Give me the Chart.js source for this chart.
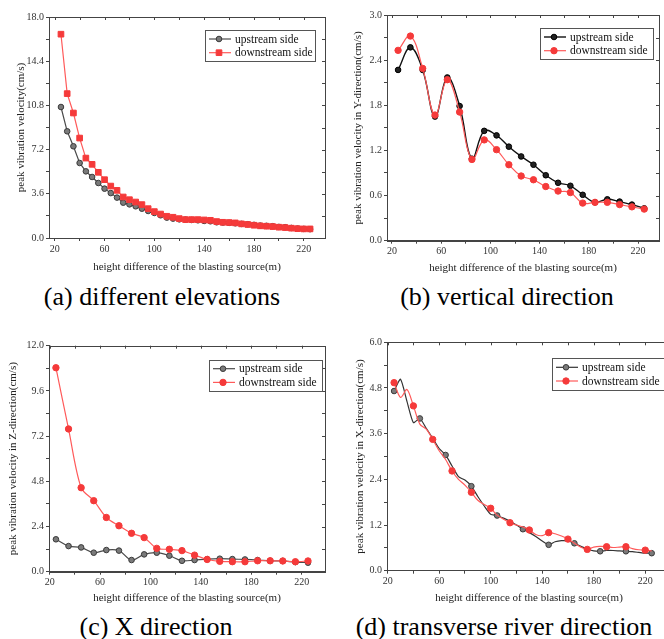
<!DOCTYPE html>
<html>
<head>
<meta charset="utf-8">
<script src="https://cdn.jsdelivr.net/npm/chart.js@4.4.0/dist/chart.umd.min.js"></script>
<style>
  html, body { margin: 0; padding: 0; background: #fff; }
  body { position: relative; width: 664px; height: 639px; overflow: hidden; }
  .panel { position: absolute; }
  .caption {
    position: absolute;
    font-family: "Liberation Serif", "Times New Roman", serif;
    font-size: 26px;
    color: #000;
    white-space: nowrap;
    transform: translate(-50%, -50%);
  }
</style>
</head>
<body>
<div class="panel" style="left:0;top:0"><canvas id="chartA" width="335" height="280"></canvas></div>
<div class="panel" style="left:335px;top:0"><canvas id="chartB" width="329" height="280"></canvas></div>
<div class="panel" style="left:0;top:330px"><canvas id="chartC" width="335" height="280"></canvas></div>
<div class="panel" style="left:335px;top:330px"><canvas id="chartD" width="345" height="280"></canvas></div>

<div class="caption" style="left:162px;top:297px">(a) different elevations</div>
<div class="caption" style="left:507px;top:297px">(b) vertical direction</div>
<div class="caption" style="left:156px;top:627px">(c) X direction</div>
<div class="caption" style="left:504px;top:627px">(d) transverse river direction</div>

<script>
// ---- data ----
const seriesNames = ["upstream side", "downstream side"];

// (a) different elevations, every 5 m
const xA = [25, 30, 35, 40, 45, 50, 55, 60, 65, 70, 75, 80, 85, 90, 95, 100, 105, 110, 115, 120,
  125, 130, 135, 140, 145, 150, 155, 160, 165, 170, 175, 180, 185, 190, 195, 200, 205, 210, 215, 220, 225];
const upA = [10.67, 8.69, 7.47, 6.11, 5.43, 4.97, 4.48, 4.02, 3.66, 3.29, 2.88, 2.74, 2.58, 2.39, 2.20,
  2.04, 1.85, 1.66, 1.58, 1.52, 1.50, 1.47, 1.44, 1.39, 1.36, 1.28, 1.26, 1.23, 1.20, 1.15, 1.12, 1.07,
  1.01, 0.99, 0.96, 0.90, 0.88, 0.82, 0.77, 0.74, 0.72];
const downA = [16.6, 11.76, 10.18, 8.14, 6.51, 6.0, 5.35, 4.75, 4.23, 3.88, 3.34, 3.12, 2.93, 2.72, 2.39,
  2.15, 1.95, 1.77, 1.69, 1.58, 1.50, 1.50, 1.50, 1.47, 1.44, 1.34, 1.28, 1.26, 1.23, 1.15, 1.10, 1.04,
  0.99, 0.96, 0.93, 0.88, 0.85, 0.80, 0.76, 0.74, 0.74];

// (b) vertical direction, every 10 m
const xB = [25, 35, 45, 55, 65, 75, 85, 95, 105, 115, 125, 135, 145, 155, 165, 175, 185, 195, 205, 215, 225];
const upB = [2.27, 2.57, 2.27, 1.65, 2.17, 1.79, 1.09, 1.46, 1.40, 1.25, 1.12, 1.01, 0.87, 0.77, 0.73,
  0.61, 0.51, 0.55, 0.52, 0.48, 0.43];
const downB = [2.53, 2.72, 2.29, 1.67, 2.14, 1.71, 1.08, 1.34, 1.21, 1.01, 0.86, 0.81, 0.72, 0.66, 0.64,
  0.50, 0.51, 0.51, 0.48, 0.45, 0.42];

// (c) X direction, every 10 m
const xC = [25, 35, 45, 55, 65, 75, 85, 95, 105, 115, 125, 135, 145, 155, 165, 175, 185, 195, 205, 215, 225];
const upC = [1.72, 1.36, 1.29, 1.01, 1.15, 1.12, 0.62, 0.92, 1.01, 0.85, 0.58, 0.62, 0.67, 0.69, 0.67,
  0.65, 0.62, 0.58, 0.57, 0.51, 0.48];
const downC = [10.83, 7.58, 4.46, 3.77, 2.88, 2.44, 2.04, 1.81, 1.24, 1.19, 1.12, 0.88, 0.65, 0.55, 0.53,
  0.53, 0.58, 0.58, 0.57, 0.53, 0.57];

// (d) transverse river direction, line every 5 m, markers only on some points
const xD = [25, 30, 35, 40, 45, 50, 55, 60, 65, 70, 75, 80, 85, 90, 95, 100, 105, 110, 115, 120,
  125, 130, 135, 140, 145, 150, 155, 160, 165, 170, 175, 180, 185, 190, 195, 200, 205, 210, 215, 220, 225];
const upD = [4.72, 5.03, 4.45, 3.89, 4.00, 3.74, 3.48, 3.21, 3.04, 2.75, 2.47, 2.38, 2.22, 1.95, 1.70,
  1.48, 1.45, 1.38, 1.30, 1.20, 1.09, 1.00, 0.90, 0.78, 0.68, 0.76, 0.79, 0.78, 0.72, 0.64, 0.57, 0.52,
  0.51, 0.53, 0.53, 0.52, 0.51, 0.50, 0.48, 0.46, 0.46];
const downD = [4.94, 4.55, 4.76, 4.33, 3.85, 3.72, 3.45, 3.15, 2.92, 2.62, 2.40, 2.25, 2.06, 1.85, 1.74,
  1.64, 1.46, 1.35, 1.26, 1.20, 1.15, 1.07, 0.95, 0.92, 1.00, 0.97, 0.91, 0.83, 0.72, 0.62, 0.56, 0.62,
  0.64, 0.63, 0.61, 0.62, 0.63, 0.58, 0.55, 0.54, 0.52];
const upMarkD = [25, 45, 65, 85, 105, 125, 145, 165, 185, 205, 225];
const downMarkD = [25, 40, 55, 70, 85, 100, 115, 130, 145, 160, 175, 190, 205, 220];

// ticks
const xTicks = [20, 40, 60, 80, 100, 120, 140, 160, 180, 200, 220, 240];
const xTickLabels = [20, 60, 100, 140, 180, 220];
const yTicksA = [0, 3.6, 7.2, 10.8, 14.4, 18.0];
const yTicksB = [0, 0.6, 1.2, 1.8, 2.4, 3.0];
const yTicksC = [0, 2.4, 4.8, 7.2, 9.6, 12.0];
const yTicksD = [0, 1.2, 2.4, 3.6, 4.8, 6.0];

const serif = "'Liberation Serif', 'Times New Roman', serif";
Chart.defaults.font.family = serif;
Chart.defaults.color = "#333";

function drawMarker(ctx, style, r, x, y, fill, stroke) {
  ctx.beginPath();
  if (style === "rect") {
    const s = r * Math.SQRT1_2;
    ctx.rect(x - s, y - s, 2 * s, 2 * s);
  } else {
    ctx.arc(x, y, r, 0, Math.PI * 2);
  }
  ctx.fillStyle = fill;
  ctx.fill();
  ctx.lineWidth = 1;
  ctx.strokeStyle = stroke;
  ctx.stroke();
}

// frame, mirrored ticks and the boxed legend
const frame = {
  id: "frame",
  afterDraw(chart, args, opts) {
    const { ctx, chartArea: a, scales } = chart;
    ctx.save();
    ctx.strokeStyle = "#444";
    ctx.lineWidth = 1;
    ctx.strokeRect(Math.round(a.left) + 0.5, Math.round(a.top) + 0.5,
      Math.round(a.right - a.left), Math.round(a.bottom - a.top));
    ctx.beginPath();
    scales.x.ticks.forEach((t) => {
      const px = Math.round(scales.x.getPixelForValue(t.value)) + 0.5;
      if (px > a.left + 1 && px < a.right - 1) {
        ctx.moveTo(px, a.top);
        ctx.lineTo(px, a.top + 3);
      }
    });
    scales.y.ticks.forEach((t) => {
      const py = Math.round(scales.y.getPixelForValue(t.value)) + 0.5;
      ctx.moveTo(a.right, py);
      ctx.lineTo(a.right - 3, py);
    });
    ctx.stroke();

    // legend box, upstream on the first row
    const bx = a.right - opts.dr - opts.w;
    const by = a.top + opts.dt;
    ctx.fillStyle = "#fff";
    ctx.fillRect(bx, by, opts.w, opts.h);
    ctx.strokeStyle = "#555";
    ctx.strokeRect(Math.round(bx) + 0.5, Math.round(by) + 0.5, opts.w, opts.h);
    chart.data.datasets.forEach((ds, row) => {
      const y = by + 9 + row * 13.7;
      ctx.beginPath();
      ctx.strokeStyle = ds.borderColor;
      ctx.lineWidth = ds.borderWidth;
      ctx.moveTo(bx + 4, y);
      ctx.lineTo(bx + 26, y);
      ctx.stroke();
      drawMarker(ctx, ds.pointStyle, opts.mr[row], bx + 14, y, ds.backgroundColor, ds.pointBorderColor);
      ctx.fillStyle = "#111";
      ctx.font = "11.5px " + serif;
      ctx.textBaseline = "middle";
      ctx.textAlign = "left";
      ctx.fillText(ds.label, bx + 30, y + 0.5);
    });
    ctx.restore();
  },
};

function series(label, xs, ys, style, order) {
  return Object.assign({
    label,
    data: xs.map((x, i) => ({ x, y: ys[i] })),
    order,
  }, style);
}

function makeChart(id, cfg) {
  const yMax = cfg.yTicks[cfg.yTicks.length - 1];
  const yStep = cfg.yTicks[1] / 2;
  new Chart(document.getElementById(id), {
    type: "line",
    data: { datasets: cfg.datasets },
    options: {
      responsive: false,
      animation: false,
      events: [],
      layout: { padding: cfg.padding },
      plugins: { legend: { display: false }, tooltip: { enabled: false }, frame: cfg.legend },
      scales: {
        x: {
          type: "linear",
          min: cfg.xMin,
          max: cfg.xMax,
          afterBuildTicks(scale) {
            scale.ticks = xTicks.filter((v) => v <= cfg.xMax).map((v) => ({ value: v }));
          },
          afterFit(scale) { scale.height = cfg.xH; },
          ticks: {
            autoSkip: false,
            maxRotation: 0,
            padding: 2,
            font: { size: 10 },
            callback: (v) => (xTickLabels.includes(v) ? String(v) : ""),
          },
          grid: { drawOnChartArea: false, tickLength: 3, color: "#444" },
          border: { color: "#444" },
          title: {
            display: true,
            text: "height difference of the blasting source(m)",
            font: { size: 11 },
            color: "#222",
            padding: { top: 0, bottom: cfg.xtpb },
          },
        },
        y: {
          type: "linear",
          min: 0,
          max: yMax,
          afterBuildTicks(scale) {
            const t = [];
            for (let i = 0; i <= (cfg.yTicks.length - 1) * 2; i++) t.push({ value: +(i * yStep).toFixed(3) });
            scale.ticks = t;
          },
          afterFit(scale) { scale.width = cfg.yW; },
          ticks: {
            autoSkip: false,
            padding: 2,
            font: { size: 10 },
            callback: (v, i) => (i % 2 === 0 ? v.toFixed(1) : ""),
          },
          grid: { drawOnChartArea: false, tickLength: 3, color: "#444" },
          border: { color: "#444" },
          title: {
            display: true,
            text: cfg.yTitle,
            font: { size: 11 },
            color: "#222",
            padding: { top: cfg.ytpt, bottom: 0 },
          },
        },
      },
    },
    plugins: [frame],
  });
}

document.addEventListener("DOMContentLoaded", function () {
  const grayUp = {
    borderColor: "#4a4a4a", backgroundColor: "#7a7a7a", pointBorderColor: "#3a3a3a",
    pointStyle: "circle", pointRadius: 2.8, pointBorderWidth: 1, borderWidth: 1.2, tension: 0,
  };
  const redSquare = {
    borderColor: "#ff5a5a", backgroundColor: "#f53a3a", pointBorderColor: "#f53a3a",
    pointStyle: "rect", pointRadius: 4, pointBorderWidth: 1, borderWidth: 1.2, tension: 0,
  };
  const redDot = {
    borderColor: "#ff5a5a", backgroundColor: "#f53a3a", pointBorderColor: "#f53a3a",
    pointStyle: "circle", pointRadius: 3.2, pointBorderWidth: 1, borderWidth: 1.2,
  };

  makeChart("chartA", {
    datasets: [
      series(seriesNames[0], xA, upA, grayUp, 1),
      series(seriesNames[1], xA, downA, redSquare, 0),
    ],
    xMin: 15.4, xMax: 237, xH: 42, yW: 49, xtpb: 6.4, ytpt: 15,
    padding: { left: 0, top: 17, right: 10, bottom: 0 },
    yTicks: yTicksA,
    yTitle: "peak vibration velocity(cm/s)",
    legend: { w: 110, h: 31, dr: 10, dt: 13, mr: [2.8, 4] },
  });

  makeChart("chartB", {
    datasets: [
      series(seriesNames[0], xB, upB, Object.assign({}, grayUp, {
        borderColor: "#111", backgroundColor: "#222", pointBorderColor: "#000", borderWidth: 1.4, tension: 0.4,
      }), 1),
      series(seriesNames[1], xB, downB, Object.assign({}, redDot, { tension: 0.4 }), 0),
    ],
    xMin: 16, xMax: 237, xH: 39.3, yW: 52, xtpb: 5.4, ytpt: 16.4,
    padding: { left: 0, top: 15, right: 1, bottom: 0 },
    yTicks: yTicksB,
    yTitle: "peak vibration velocity in Y-direction(cm/s)",
    legend: { w: 113, h: 31, dr: 6, dt: 13, mr: [2.8, 3.2] },
  });

  makeChart("chartC", {
    datasets: [
      series(seriesNames[0], xC, upC, Object.assign({}, grayUp, { tension: 0.35 }), 1),
      series(seriesNames[1], xC, downC, Object.assign({}, redDot, { tension: 0.3 }), 0),
    ],
    xMin: 19.5, xMax: 238.5, xH: 38.3, yW: 49, xtpb: 5.4, ytpt: 6.7,
    padding: { left: 0, top: 15.7, right: 10, bottom: 0 },
    yTicks: yTicksC,
    yTitle: "peak vibration velocity in Z-direction(cm/s)",
    legend: { w: 113, h: 31, dr: 3, dt: 14, mr: [2.8, 3.2] },
  });

  makeChart("chartD", {
    datasets: [
      series(seriesNames[0], xD, upD, Object.assign({}, grayUp, {
        borderColor: "#333", tension: 0.2,
        pointRadius: (c) => (upMarkD.includes(xD[c.dataIndex]) ? 2.8 : 0),
      }), 1),
      series(seriesNames[1], xD, downD, Object.assign({}, redDot, {
        tension: 0.3,
        pointRadius: (c) => (downMarkD.includes(xD[c.dataIndex]) ? 3.2 : 0),
      }), 0),
    ],
    xMin: 19.5, xMax: 240, xH: 39.3, yW: 52, xtpb: 5.4, ytpt: 18.4,
    padding: { left: 0, top: 12.3, right: 9, bottom: 0 },
    yTicks: yTicksD,
    yTitle: "peak vibration velocity in X-direction(cm/s)",
    legend: { w: 118, h: 32, dr: 1, dt: 16, mr: [2.8, 3.2] },
  });
});
</script>
</body>
</html>
